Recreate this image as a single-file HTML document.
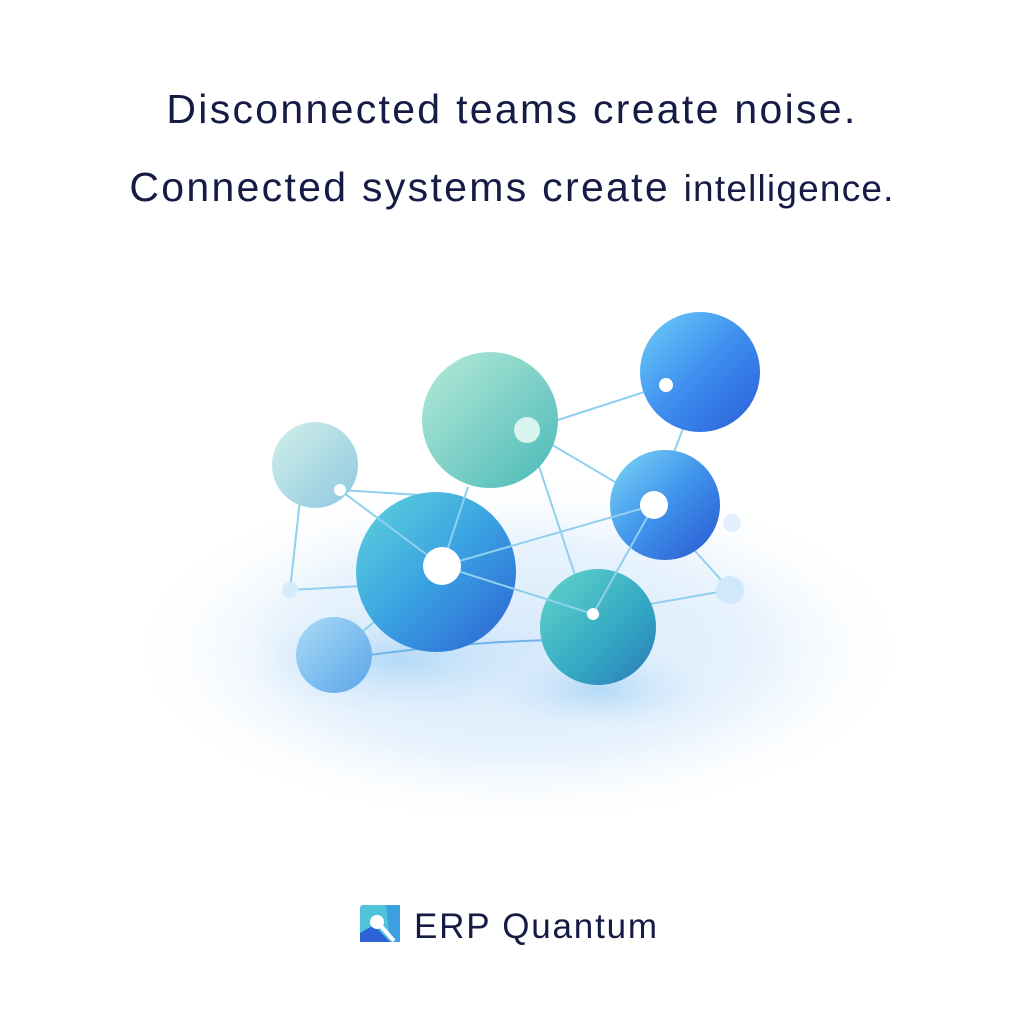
<!DOCTYPE html>
<html><head><style>
body{margin:0;width:1024px;height:1024px;background:#fff;overflow:hidden;position:relative;font-family:"Liberation Sans",sans-serif}
.t{position:absolute;left:0;width:1024px;text-align:center;color:#161b45;font-size:41px;letter-spacing:2.3px}
</style></head><body>
<div class="t" style="top:86px">Disconnected teams create noise.</div>
<div class="t" style="top:164px">Connected systems create <span style="font-size:37px;letter-spacing:1.2px">intelligence.</span></div>
<svg width="1024" height="1024" style="position:absolute;left:0;top:0">
<defs>
<radialGradient id="base" cx="0.5" cy="0.5" r="0.5">
<stop offset="0" stop-color="#d6e9fb"/><stop offset="0.6" stop-color="#e8f3fd"/><stop offset="1" stop-color="#fff" stop-opacity="0"/></radialGradient>
<radialGradient id="sh" cx="0.5" cy="0.5" r="0.5"><stop offset="0" stop-color="#9fd0f5" stop-opacity="0.7"/><stop offset="1" stop-color="#c8e4fa" stop-opacity="0"/></radialGradient>
<linearGradient id="gA" x1="0" y1="0" x2="1" y2="1"><stop offset="0" stop-color="#d2efe9"/><stop offset="1" stop-color="#8ec8e0"/></linearGradient>
<linearGradient id="gB" x1="0" y1="0" x2="1" y2="1"><stop offset="0" stop-color="#b6ead8"/><stop offset="1" stop-color="#4ab9b8"/></linearGradient>
<linearGradient id="gC" x1="0" y1="0" x2="1" y2="1"><stop offset="0" stop-color="#6fd0f5"/><stop offset="0.5" stop-color="#3e8ef0"/><stop offset="1" stop-color="#2a5fd8"/></linearGradient>
<linearGradient id="gD" x1="0" y1="0" x2="1" y2="1"><stop offset="0" stop-color="#7ed8f5"/><stop offset="0.5" stop-color="#3f93ec"/><stop offset="1" stop-color="#2a56d0"/></linearGradient>
<linearGradient id="gE" x1="0" y1="0" x2="1" y2="1"><stop offset="0" stop-color="#5fd4da"/><stop offset="0.5" stop-color="#3aa2e2"/><stop offset="1" stop-color="#2b5fd3"/></linearGradient>
<linearGradient id="gF" x1="0" y1="0" x2="1" y2="1"><stop offset="0" stop-color="#62d6c8"/><stop offset="0.6" stop-color="#33a8c4"/><stop offset="1" stop-color="#2a78b8"/></linearGradient>
<linearGradient id="gG" x1="0" y1="0" x2="1" y2="1"><stop offset="0" stop-color="#a9dcf5"/><stop offset="1" stop-color="#5ba4ea"/></linearGradient>
</defs>
<ellipse cx="520" cy="650" rx="400" ry="180" fill="url(#base)"/>
<ellipse cx="600" cy="690" rx="110" ry="40" fill="url(#sh)"/>
<ellipse cx="400" cy="660" rx="150" ry="55" fill="url(#sh)"/>
<g stroke="#8fd0ee" stroke-width="2" fill="none">
<line x1="527" y1="430" x2="666" y2="385"/>
<line x1="527" y1="430" x2="654" y2="505"/>
<line x1="654" y1="505" x2="690" y2="410"/>
<line x1="340" y1="490" x2="420" y2="495"/>
<line x1="527" y1="430" x2="580" y2="590"/>
<line x1="593" y1="614" x2="730" y2="590"/>
<line x1="654" y1="505" x2="730" y2="590"/>
<line x1="290" y1="590" x2="380" y2="585"/>
<line x1="300" y1="500" x2="290" y2="590"/>
<path d="M334 660 Q470 640 570 640" stroke="#6eb4ec"/>
<line x1="334" y1="655" x2="442" y2="566"/>
</g>
<circle cx="290" cy="590" r="8" fill="#d4ecfb"/>
<circle cx="730" cy="590" r="14" fill="#cfe8fb"/>
<circle cx="732" cy="523" r="9" fill="#e1f0fc"/>
<circle cx="315" cy="465" r="43" fill="url(#gA)"/>
<circle cx="490" cy="420" r="68" fill="url(#gB)"/>
<circle cx="700" cy="372" r="60" fill="url(#gC)"/>
<circle cx="665" cy="505" r="55" fill="url(#gD)"/>
<circle cx="436" cy="572" r="80" fill="url(#gE)"/>
<circle cx="598" cy="627" r="58" fill="url(#gF)"/>
<circle cx="334" cy="655" r="38" fill="url(#gG)"/>
<g stroke="#8fd0ee" stroke-width="2">
<line x1="442" y1="566" x2="468" y2="487"/><line x1="442" y1="566" x2="654" y2="505"/><line x1="442" y1="566" x2="593" y2="614"/><line x1="593" y1="614" x2="654" y2="505"/><line x1="340" y1="490" x2="442" y2="566"/>
</g>
<g fill="#fff">
<circle cx="340" cy="490" r="6"/>
<circle cx="527" cy="430" r="13" fill="#d8f4ef"/>
<circle cx="666" cy="385" r="7"/>
<circle cx="654" cy="505" r="14"/>
<circle cx="442" cy="566" r="19"/>
<circle cx="593" cy="614" r="6"/>
</g>
<g transform="translate(360,905)">
<rect x="0" y="0" width="40" height="37" rx="3" fill="#4fc3d8"/>
<polygon points="26,0 40,0 40,37 30,37" fill="#3b9fe0"/>
<polygon points="0,37 0,28 14,20 30,37" fill="#2d63d6"/>
<circle cx="17" cy="17" r="7" fill="#fff"/>
<line x1="20" y1="20" x2="34" y2="36" stroke="#fff" stroke-width="4"/>
</g>
<text x="414" y="938" font-family="Liberation Sans,sans-serif" font-size="35" letter-spacing="1.8" fill="#161b45">ERP Quantum</text>
</svg>
</body></html>
